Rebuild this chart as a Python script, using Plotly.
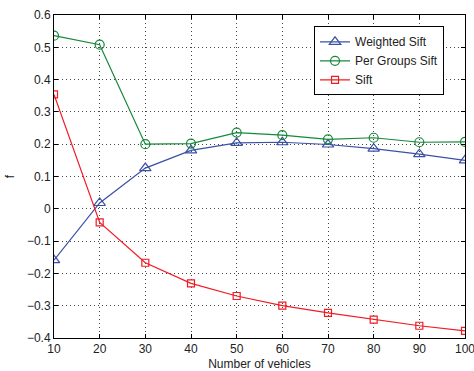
import plotly.graph_objects as go

vehicles = [10, 20, 30, 40, 50, 60, 70, 80, 90, 100]
weighted_sift = [-0.159, 0.018, 0.126, 0.181, 0.204, 0.206, 0.199, 0.186, 0.169, 0.150]
per_groups_sift = [0.536, 0.508, 0.200, 0.202, 0.236, 0.228, 0.215, 0.220, 0.206, 0.207]
sift = [0.354, -0.042, -0.167, -0.231, -0.270, -0.300, -0.322, -0.343, -0.362, -0.378]

y_ticks = [0.6, 0.5, 0.4, 0.3, 0.2, 0.1, 0, -0.1, -0.2, -0.3, -0.4]
y_tick_labels = ["0.6", "0.5", "0.4", "0.3", "0.2", "0.1", "0", "\u22120.1", "\u22120.2", "\u22120.3", "\u22120.4"]

FONT = "Liberation Sans, Arial"
TXT = "#222222"

fig = go.Figure()
fig.add_trace(go.Scatter(x=vehicles, y=weighted_sift, name="Weighted Sift", mode="lines+markers",
                         line=dict(color="#3b50a6", width=1.2),
                         marker=dict(symbol="triangle-up-open", size=10, color="#3b50a6", line=dict(width=1.2))))
fig.add_trace(go.Scatter(x=vehicles, y=per_groups_sift, name="Per Groups Sift", mode="lines+markers",
                         line=dict(color="#16883a", width=1.2),
                         marker=dict(symbol="circle-open", size=9, color="#16883a", line=dict(width=1.2))))
fig.add_trace(go.Scatter(x=vehicles, y=sift, name="Sift", mode="lines+markers",
                         line=dict(color="#f01c24", width=1.2),
                         marker=dict(symbol="square-open", size=7, color="#f01c24", line=dict(width=1.2))))

axis_common = dict(showline=True, linecolor="black", linewidth=1, mirror="ticks",
                   ticks="inside", ticklen=4, tickcolor="black",
                   showgrid=True, gridcolor="#444444", gridwidth=1, griddash="1px,3px",
                   zeroline=False, automargin=False, ticklabeloverflow="allow",
                   tickfont=dict(family=FONT, size=12, color=TXT))

fig.update_xaxes(range=[10, 100], tickvals=vehicles,
                 title=dict(text="Number of vehicles", standoff=4, font=dict(family=FONT, size=12, color=TXT)),
                 **axis_common)
fig.update_yaxes(range=[-0.4, 0.6], tickvals=y_ticks, ticktext=y_tick_labels,
                 title=dict(text="f", standoff=9, font=dict(family=FONT, size=12, color=TXT)),
                 **axis_common)

fig.update_layout(
    width=474, height=371,
    margin=dict(l=54, r=9, t=15, b=33),
    paper_bgcolor="white", plot_bgcolor="white",
    showlegend=True,
    legend=dict(x=0.949, y=0.965, xanchor="right", yanchor="top",
                bgcolor="white", bordercolor="black", borderwidth=1,
                font=dict(family=FONT, size=12, color=TXT),
                tracegroupgap=0, itemwidth=30),
)

fig.write_html("out.html", config={"displayModeBar": False},
               post_script="document.body.style.margin='0';document.body.style.overflow='hidden';")
